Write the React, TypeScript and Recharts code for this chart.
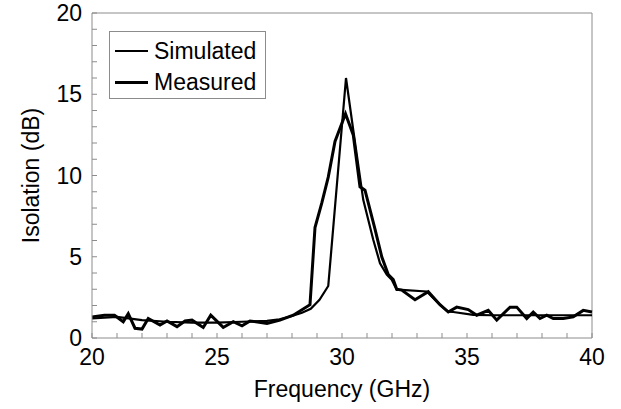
import React from "react";
import { LineChart, Line, XAxis, YAxis, ReferenceLine } from "recharts";

const freqTicks = [
  20, 21, 22, 23, 24, 25, 26, 27, 28, 29, 30, 31, 32, 33, 34, 35, 36, 37, 38, 39, 40,
];
const isoTicks = [
  0, 1, 2, 3, 4, 5, 6, 7, 8, 9, 10, 11, 12, 13, 14, 15, 16, 17, 18, 19, 20,
];

const simFreq = [
  20, 21, 22, 23, 24, 25, 26, 27, 27.5, 28, 28.4, 28.75, 29.1, 29.45, 30.16,
  30.45, 30.85, 31.25, 31.52, 31.79, 31.99, 32.19, 32.39, 33.39, 33.92, 34.25,
  34.45, 35.25, 36, 37, 38, 39, 40,
];
const simIso = [
  1.2, 1.3, 1.1, 1.0, 0.95, 0.95, 1.0, 1.05, 1.15, 1.35, 1.55, 1.8, 2.35, 3.2,
  16.0, 12.8, 8.5, 6.05, 4.6, 3.9, 3.58, 2.96, 2.96, 2.86, 2.04, 1.62, 1.6,
  1.42, 1.4, 1.4, 1.4, 1.4, 1.4,
];

const measFreq = [
  20.0, 20.5, 20.9, 21.25, 21.45, 21.72, 22.0, 22.25, 22.72, 23.0, 23.4, 23.72,
  24.0, 24.45, 24.75, 25.25, 25.65, 26.0, 26.32, 27.0, 27.52, 28.05, 28.72,
  28.92, 29.19, 29.45, 29.72, 30.14, 30.45, 30.72, 30.92, 31.32, 31.59, 31.85,
  32.05, 32.19, 32.39, 32.92, 33.45, 33.92, 34.25, 34.59, 35.05, 35.39, 35.85,
  36.19, 36.72, 36.99, 37.39, 37.65, 37.92, 38.19, 38.45, 38.85, 39.25, 39.65,
  40.0,
];
const measIso = [
  1.3, 1.4, 1.4, 1.0, 1.5, 0.6, 0.55, 1.2, 0.8, 1.05, 0.7, 1.05, 1.1, 0.65,
  1.4, 0.65, 1.0, 0.75, 1.05, 0.9, 1.1, 1.4, 2.05, 6.8, 8.3, 9.9, 12.1, 13.8,
  12.5, 9.3, 9.1, 6.7, 5.0, 3.9, 3.6, 3.0, 2.95, 2.35, 2.85, 2.05, 1.6, 1.9,
  1.75, 1.4, 1.7, 1.1, 1.9, 1.9, 1.2, 1.6, 1.2, 1.4, 1.2, 1.2, 1.3, 1.7, 1.6,
];

const legendItems = [
  { name: "Simulated", w: 2 },
  { name: "Measured", w: 3 },
];

const simData = simFreq.map((f, i) => ({ f, v: simIso[i] }));
const measData = measFreq.map((f, i) => ({ f, v: measIso[i] }));

const font = "'Liberation Sans', Arial, sans-serif";
const axisGray = "#8c8c8c";

const XTick = (props: any) => {
  const { x, y, payload } = props;
  const major = payload.value % 5 === 0;
  return (
    <g>
      <line x1={x} y1={y} x2={x} y2={y - 5} stroke={axisGray} />
      {major && (
        <text
          x={x}
          y={y + 27}
          textAnchor="middle"
          fontSize={23}
          fontFamily={font}
          fill="#000"
        >
          {payload.value}
        </text>
      )}
    </g>
  );
};

const YTick = (props: any) => {
  const { x, y, payload } = props;
  const major = payload.value % 5 === 0;
  return (
    <g>
      <line x1={x} y1={y} x2={x + 5} y2={y} stroke={axisGray} />
      {major && (
        <text
          x={x - 10}
          y={y + 8}
          textAnchor="end"
          fontSize={23}
          fontFamily={font}
          fill="#000"
        >
          {payload.value}
        </text>
      )}
    </g>
  );
};

export default function App() {
  return (
    <div style={{ position: "absolute", left: 0, top: 0, background: "#fff" }}>
      <LineChart
        width={621}
        height={409}
        margin={{ top: 13, right: 29, bottom: 0, left: 0 }}
      >
        <XAxis
          type="number"
          dataKey="f"
          domain={[20, 40]}
          ticks={freqTicks}
          interval={0}
          allowDuplicatedCategory={false}
          stroke={axisGray}
          tickLine={false}
          tickSize={0}
          tickMargin={0}
          tick={<XTick />}
          height={71}
          label={{
            value: "Frequency (GHz)",
            position: "insideBottom",
            offset: 12,
            fontSize: 23,
            fontFamily: font,
            fill: "#000",
          }}
        />
        <YAxis
          type="number"
          domain={[0, 20]}
          ticks={isoTicks}
          interval={0}
          stroke={axisGray}
          tickLine={false}
          tickSize={0}
          tickMargin={0}
          tick={<YTick />}
          width={92}
          label={{
            value: "Isolation (dB)",
            angle: -90,
            position: "insideLeft",
            offset: 31,
            style: { textAnchor: "middle" },
            fontSize: 23,
            fontFamily: font,
            fill: "#000",
          }}
        />
        <ReferenceLine y={20} stroke={axisGray} />
        <ReferenceLine x={40} stroke={axisGray} />
        <Line
          data={simData}
          dataKey="v"
          name="Simulated"
          stroke="#000"
          strokeWidth={2.2}
          dot={false}
          isAnimationActive={false}
        />
        <Line
          data={measData}
          dataKey="v"
          name="Measured"
          stroke="#000"
          strokeWidth={3}
          dot={false}
          isAnimationActive={false}
        />
      </LineChart>
      <div
        style={{
          position: "absolute",
          left: 109,
          top: 31,
          width: 157,
          height: 68,
          border: `1px solid ${axisGray}`,
          background: "#fff",
          fontFamily: font,
          fontSize: 23,
          boxSizing: "border-box",
        }}
      >
        {legendItems.map((it, i) => (
          <div
            key={it.name}
            style={{
              position: "absolute",
              left: 5,
              top: 6 + i * 31,
              display: "flex",
              alignItems: "center",
              height: 26,
              whiteSpace: "nowrap",
            }}
          >
            <div style={{ width: 33, height: it.w, background: "#000" }} />
            <span style={{ marginLeft: 6 }}>{it.name}</span>
          </div>
        ))}
      </div>
    </div>
  );
}
